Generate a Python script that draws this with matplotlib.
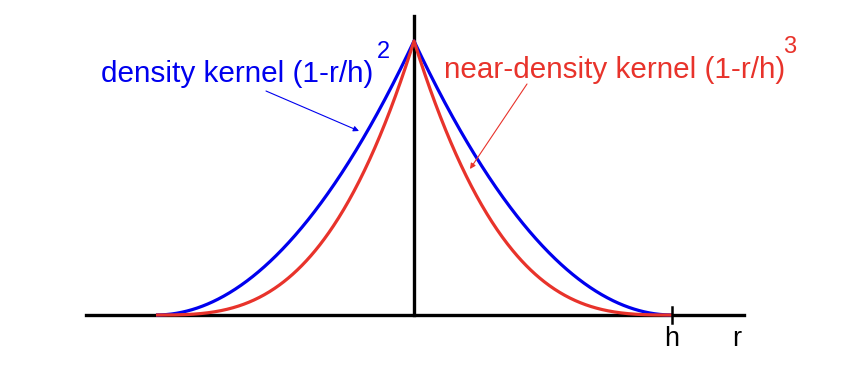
import numpy as np
import matplotlib
matplotlib.use("Agg")
import matplotlib.pyplot as plt

# kernel parameters
h = 1.0
exponents = [2, 3]
kernel_colors = ["#0000ee", "#e8332b"]
kernel_labels = ["density kernel (1-r/h)", "near-density kernel (1-r/h)"]

plt.rcParams["font.family"] = ["Liberation Sans", "DejaVu Sans"]

fig = plt.figure(figsize=(8.66, 3.69), dpi=100)
ax = fig.add_axes([0, 0, 1, 1])
ax.set_xlim(-414 / 258, (866 - 414) / 258)
ax.set_ylim(-(369 - 315) / 274, 315 / 274)
ax.axis("off")


def px(x, y):
    # image pixel -> data coords
    return ((x - 414) / 258, (315 - y) / 274)


r = np.linspace(-h, h, 801)
for p, c in zip(exponents, kernel_colors):
    ax.plot(r, (1 - np.abs(r) / h) ** p, color=c, lw=2.3, zorder=3,
            solid_capstyle="butt")

# axes
ax.plot([px(86, 0)[0], px(744, 0)[0]], [0, 0], color="black", lw=2.4, zorder=2)
ax.plot([0, 0], [0, px(0, 16)[1]], color="black", lw=2.4, zorder=2)
ax.plot([h, h], [px(0, 307)[1], px(0, 323)[1]], color="black", lw=1.8, zorder=4)

ax.text(*px(672, 346), "h", fontsize=19.5, ha="center", va="baseline")
ax.text(*px(737, 346), "r", fontsize=19.5, ha="center", va="baseline")

# labels
ax.text(*px(101, 82), kernel_labels[0], color=kernel_colors[0], fontsize=21.4,
        va="baseline")
ax.text(*px(377, 58), "2", color=kernel_colors[0], fontsize=17, va="baseline")
ax.text(*px(444, 78), kernel_labels[1], color=kernel_colors[1], fontsize=21.3,
        va="baseline")
ax.text(*px(783, 53), "3", color=kernel_colors[1], fontsize=17, va="baseline")

ax.annotate("", xy=px(359, 131), xytext=px(266, 91),
            arrowprops=dict(arrowstyle="-|>", color=kernel_colors[0], lw=0.8,
                            mutation_scale=8, shrinkA=0, shrinkB=0))
ax.annotate("", xy=px(470, 169), xytext=px(527, 84),
            arrowprops=dict(arrowstyle="-|>", color=kernel_colors[1], lw=0.8,
                            mutation_scale=8, shrinkA=0, shrinkB=0))

fig.savefig("out.png", dpi=100)
